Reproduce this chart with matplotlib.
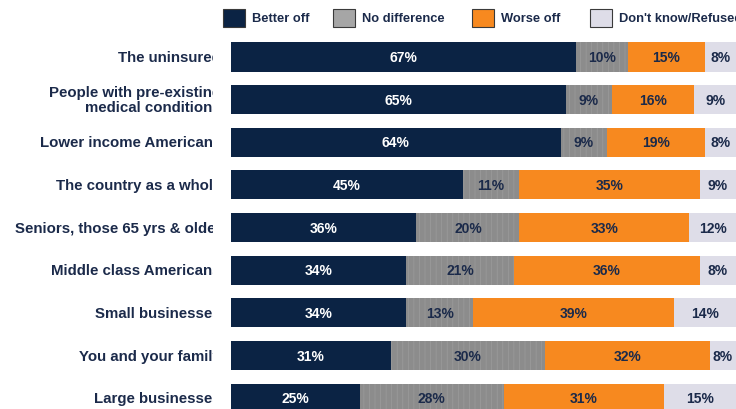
import matplotlib.pyplot as plt
import matplotlib.transforms as mtransforms
from matplotlib.patches import Rectangle
import numpy as np

plt.rcParams["font.family"] = ["Liberation Sans", "DejaVu Sans"]
plt.rcParams["hatch.linewidth"] = 0.5

# Dati
gruppi = [
    "The uninsured",
    "People with pre-existing\nmedical conditions",
    "Lower income Americans",
    "The country as a whole",
    "Seniors, those 65 yrs & older",
    "Middle class Americans",
    "Small businesses",
    "You and your family",
    "Large businesses",
]
serie = ["Better off", "No difference", "Worse off", "Don't know/Refused"]
meglio = [67, 65, 64, 45, 36, 34, 34, 31, 25]
nessuna_diff = [10, 9, 9, 11, 20, 21, 13, 30, 28]
peggio = [15, 16, 19, 35, 33, 36, 39, 32, 31]
non_so = [8, 9, 8, 9, 12, 8, 14, 8, 15]

colori = ["#0B2344", "#8C8C8C", "#F7891F", "#DEDDE8"]
colori_legenda = ["#0B2344", "#A6A6A6", "#F7891F", "#DEDDE8"]
colori_testo = ["white", "#1B2A4A", "#1B2A4A", "#1B2A4A"]
navy = "#1B2A4A"

W, H = 736, 410
fig = plt.figure(figsize=(W / 100, H / 100), dpi=100)
fig.patch.set_facecolor("white")

# l'asse esce a destra dalla figura, come nell'originale ritagliato
x0, larghezza = 231, 515
ax = fig.add_axes([x0 / W, 0, larghezza / W, 1])
passo = 42.65
ax.set_ylim((H - 58) / passo, -58 / passo)
ax.set_xlim(0, 100)
ax.axis("off")
visibile = 100 * (W - x0) / larghezza  # parte dell'asse dentro la figura

y = np.arange(len(gruppi))
sinistra = np.zeros(len(gruppi))
for i, valori in enumerate([meglio, nessuna_diff, peggio, non_so]):
    valori = np.array(valori, dtype=float)
    ax.barh(
        y,
        valori,
        left=sinistra,
        height=0.68,
        color=colori[i],
        edgecolor="#9C9C9C" if i == 1 else "none",
        linewidth=0,
        hatch="|||" if i == 1 else None,
    )
    for yy, v, l in zip(y, valori, sinistra):
        centro = (l + min(l + v, visibile)) / 2
        ax.text(
            centro,
            yy,
            f"{int(v)}%",
            ha="center",
            va="center",
            color=colori_testo[i],
            fontsize=10,
            fontweight="bold",
        )
    sinistra += valori

# etichette delle categorie, tagliate come nell'originale
trans = mtransforms.blended_transform_factory(fig.transFigure, ax.transData)
taglio = mtransforms.Bbox([[0, 0], [213, H]])
for yy, nome in zip(y, gruppi):
    t = fig.text(
        221 / W,
        yy,
        nome,
        transform=trans,
        ha="right",
        va="center",
        multialignment="right",
        color=navy,
        fontsize=10.8,
        fontweight="bold",
        linespacing=1.05,
    )
    t.set_clip_box(taglio)
    t.set_clip_on(True)

# legenda disegnata a mano
pos_legenda = [223, 333, 472, 590]
for xq, c, nome in zip(pos_legenda, colori_legenda, serie):
    fig.patches.append(
        Rectangle(
            (xq / W, (H - 28) / H),
            22 / W,
            18 / H,
            transform=fig.transFigure,
            facecolor=c,
            edgecolor="#3A3A3A",
            linewidth=0.8,
        )
    )
    fig.text(
        (xq + 29) / W,
        (H - 19) / H,
        nome,
        ha="left",
        va="center",
        color=navy,
        fontsize=9.3,
        fontweight="bold",
    )

plt.savefig("out.png", dpi=100)
